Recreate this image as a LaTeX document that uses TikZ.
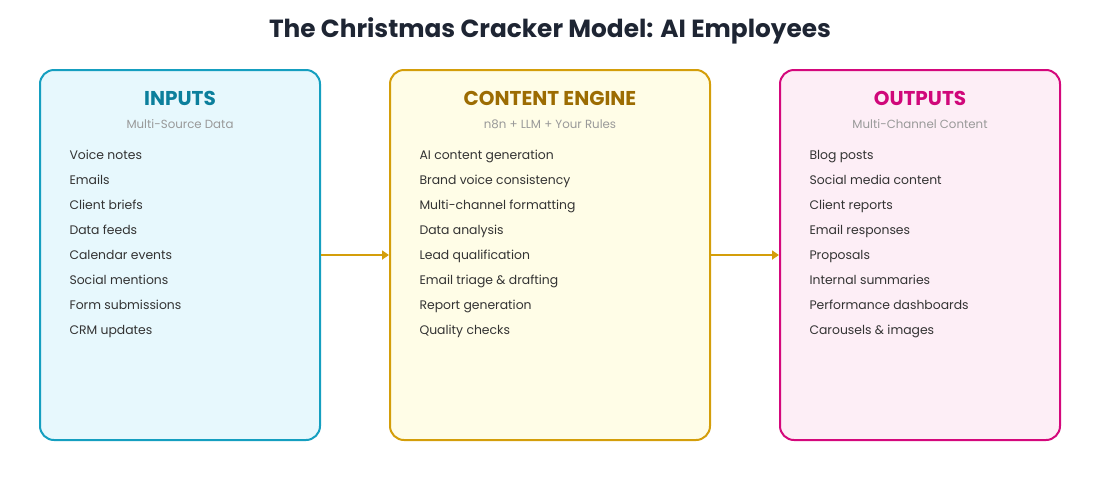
\documentclass[tikz,border=0pt]{standalone}
\usepackage{fontspec}
\setmainfont{Poppins}
\usepackage{xcolor}
\usetikzlibrary{arrows.meta,positioning}

\definecolor{inBorder}{HTML}{159FC0}
\definecolor{inFill}{HTML}{E7F8FD}
\definecolor{inHead}{HTML}{0B7F9C}
\definecolor{enBorder}{HTML}{D49E0A}
\definecolor{enFill}{HTML}{FFFDE7}
\definecolor{enHead}{HTML}{9C6C02}
\definecolor{outBorder}{HTML}{D4087C}
\definecolor{outFill}{HTML}{FDEEF6}
\definecolor{outHead}{HTML}{D0077A}
\definecolor{titleInk}{HTML}{1E2533}
\definecolor{subInk}{HTML}{999999}
\definecolor{itemInk}{HTML}{333333}

\tikzset{
  panel/.style={draw, line width=2pt, rounded corners=14pt, minimum width=280pt, minimum height=370pt, inner sep=0pt},
  head/.style={font=\fontsize{20}{22}\selectfont\bfseries},
  sub/.style={font=\fontsize{11.8}{13}\selectfont, text=subInk},
  item/.style={anchor=west, font=\fontsize{12.4}{15}\selectfont, text=itemInk, text height=9pt, text depth=3pt},
  flow/.style={-{Triangle[length=7pt,width=9pt]}, line width=2pt, draw=enBorder}
}

\begin{document}
\begin{tikzpicture}[x=1pt,y=-1pt]
	\useasboundingbox (0,0) rectangle (1100,480);
	
	\node[font=\fontsize{24.8}{28}\selectfont\bfseries, text=titleInk] (title) at (550,31) {The Christmas Cracker Model: AI Employees};
	
	% panels
	\node[panel, draw=inBorder, fill=inFill] (inputs) at (180,255) {};
	\node[panel, draw=enBorder, fill=enFill, minimum width=320pt] (engine) at (550,255) {};
	\node[panel, draw=outBorder, fill=outFill] (outputs) at (920,255) {};
	
	\node[head, text=inHead] (inhead) at (180,98) {INPUTS};
	\node[sub] (insub) at (180,124) {Multi-Source Data};
	\node[head, text=enHead] (enhead) at (550,98) {CONTENT ENGINE};
	\node[sub] (ensub) at (550,124) {n8n + LLM + Your Rules};
	\node[head, text=outHead] (outhead) at (920,98) {OUTPUTS};
	\node[sub] (outsub) at (920,124) {Multi-Channel Content};
	
	% item lists
	\foreach \txt [count=\i] in {Voice notes, Emails, Client briefs, Data feeds, Calendar events, Social mentions, Form submissions, CRM updates}
		\node[item] (in\i) at (66,156+25*\i-25) {\txt};
	\foreach \txt [count=\i] in {AI content generation, Brand voice consistency, Multi-channel formatting, Data analysis, Lead qualification, Email triage \& drafting, Report generation, Quality checks}
		\node[item] (en\i) at (416,156+25*\i-25) {\txt};
	\foreach \txt [count=\i] in {Blog posts, Social media content, Client reports, Email responses, Proposals, Internal summaries, Performance dashboards, Carousels \& images}
		\node[item] (out\i) at (806,156+25*\i-25) {\txt};
	
	% connectors
	\draw[flow] (inputs.east) -- (engine.west);
	\draw[flow] (engine.east) -- (outputs.west);
\end{tikzpicture}
\end{document}
